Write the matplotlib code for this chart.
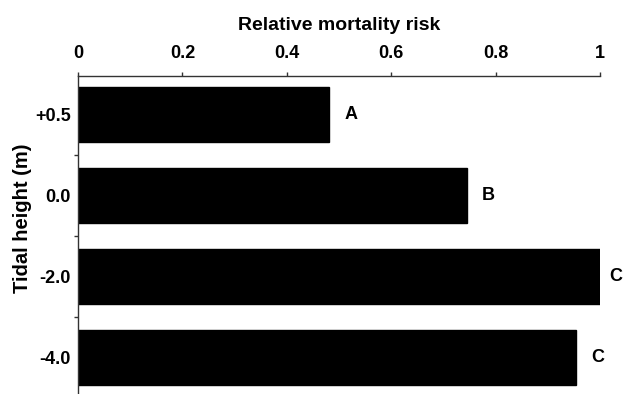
import matplotlib.pyplot as plt
import numpy as np

# relative mortality risk by tidal height
heights = ["+0.5", "0.0", "-2.0", "-4.0"]
risk = [0.481, 0.745, 1.0, 0.954]
groups = ["A", "B", "C", "C"]
x_ticks = [0, 0.2, 0.4, 0.6, 0.8, 1.0]
x_tick_labels = ["0", "0.2", "0.4", "0.6", "0.8", "1"]

plt.rcParams["font.family"] = ["Liberation Sans", "DejaVu Sans"]
plt.rcParams["font.weight"] = "bold"

fig = plt.figure(figsize=(6.25, 3.94), dpi=100)
ax = fig.add_axes([0.1248, 0.0, 0.8352, 0.807])

y = np.arange(len(heights))
ax.barh(y, risk, height=0.68, color="black", edgecolor="black")

# group letters next to the bars; pull in the one at the right edge
for yi, v, g in zip(y, risk, groups):
    off = 7 if v >= 0.99 else 11
    ax.annotate(g, (v, yi), xytext=(off, 0), textcoords="offset points",
                ha="left", va="center", fontsize=13, fontweight="bold",
                annotation_clip=False)

ax.set_xlim(0, 1)
ax.set_ylim(3.45, -0.48)

# x axis on top
ax.xaxis.set_ticks_position("top")
ax.xaxis.set_label_position("top")
ax.set_xticks(x_ticks)
ax.set_xticklabels(x_tick_labels, fontsize=13, fontweight="bold")
ax.set_xlabel("Relative mortality risk", fontsize=14, fontweight="bold", labelpad=11)
ax.tick_params(axis="x", direction="out", length=3, width=1, pad=7, color="#333333")

# category labels with ticks between bars
ax.set_yticks(y)
ax.set_yticklabels(heights, fontsize=13, fontweight="bold")
ax.set_yticks([0.5, 1.5, 2.5], minor=True)
ax.tick_params(axis="y", which="major", length=0, pad=5)
ax.tick_params(axis="y", which="minor", direction="out", length=3, width=1, color="#333333")
ax.set_ylabel("Tidal height (m)", fontsize=14.5, fontweight="bold")
ax.yaxis.set_label_coords(-0.088, 0.553)

for side in ["right", "bottom"]:
    ax.spines[side].set_visible(False)
for side in ["top", "left"]:
    ax.spines[side].set_linewidth(1)
    ax.spines[side].set_color("#333333")

fig.savefig("out.png", dpi=100)
